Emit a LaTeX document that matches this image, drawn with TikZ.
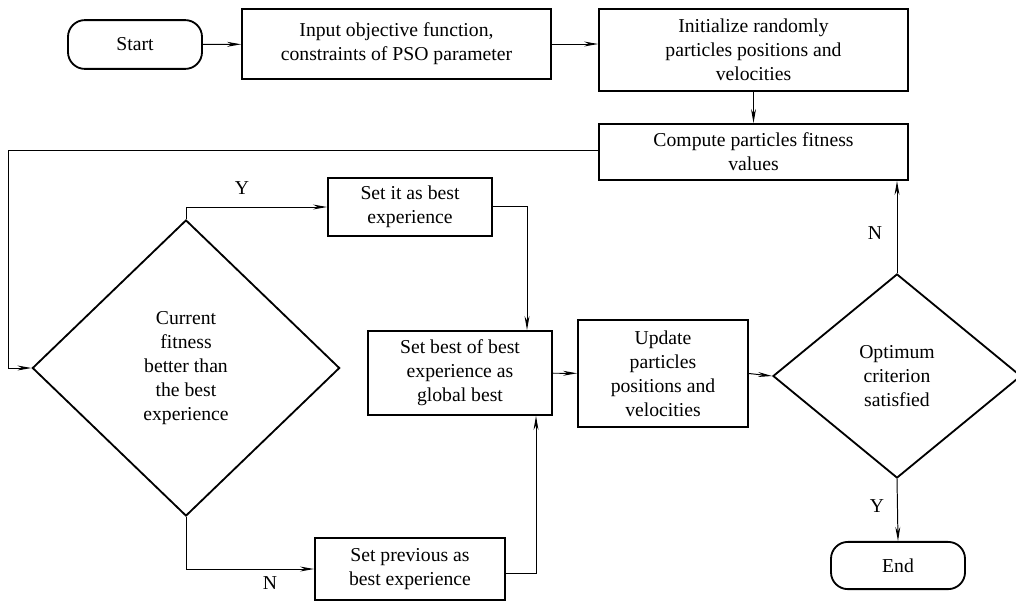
\documentclass[tikz,border=0pt]{standalone}
\usepackage{fontspec}
\setmainfont{Liberation Serif}
\usetikzlibrary{shapes.geometric,arrows.meta}

\tikzset{
  flowbox/.style={draw,line width=1.3pt,align=center,inner sep=0pt},
  terminal/.style={flowbox,rounded corners=12pt},
  decide/.style={draw,diamond,aspect=1,line width=1.3pt,align=center,inner sep=0pt},
  link/.style={line width=0.7pt,-{Stealth[length=10pt,width=3.5pt]}},
  yn/.style={inner sep=0pt}
}

\begin{document}
\begin{tikzpicture}[x=0.025cm,y=-0.025cm,font=\rmfamily\fontsize{14pt}{17pt}\selectfont]
		\useasboundingbox (0,0) rectangle (1016,601);
		% boxes
		\node[terminal,minimum width=3.35cm,minimum height=1.22cm] (start) at (135,44.5) {Start};
		\node[flowbox,minimum width=7.72cm,minimum height=1.75cm] (input) at (396.5,44) {Input objective function,\\constraints of PSO parameter};
		\node[flowbox,minimum width=7.72cm,minimum height=2.05cm] (init) at (753.5,50) {Initialize randomly\\particles positions and\\velocities};
		\node[flowbox,minimum width=7.72cm,minimum height=1.4cm] (comp) at (753.5,152) {Compute particles fitness\\values};
		\node[decide,minimum width=7.68cm,minimum height=7.4cm] (curr) at (186,368) {Current\\fitness\\better than\\the best\\experience};
		\node[flowbox,minimum width=4.1cm,minimum height=1.45cm] (setit) at (410,207) {Set it as best\\experience};
		\node[flowbox,minimum width=4.6cm,minimum height=2.1cm] (gbest) at (460,373) {Set best of best\\experience as\\global best};
		\node[flowbox,minimum width=4.75cm,minimum height=1.55cm] (prev) at (410,569) {Set previous as\\best experience};
		\node[flowbox,minimum width=4.25cm,minimum height=2.68cm] (upd) at (663,373.5) {Update\\particles\\positions and\\velocities};
		\node[decide,minimum width=6.2cm,minimum height=5.1cm] (optim) at (897,376) {Optimum\\criterion\\satisfied};
		\node[terminal,minimum width=3.35cm,minimum height=1.18cm] (stop) at (898,565.5) {End};
		% labels
		\node[yn] (y1) at (242,188) {Y};
		\node[yn] (n1) at (270,583) {N};
		\node[yn] (n2) at (875,233) {N};
		\node[yn] (y2) at (877,506) {Y};
		% helper points
		\coordinate (back) at (8,150);
		\coordinate (down1) at (527,206);
		\coordinate (up1) at (536,573);
		% connectors
		\draw[link] (start) -- (input);
		\draw[link] (input.east) -- (input.east -| init.west);
		\draw[link] (init) -- (comp);
		\draw[link] (comp.west |- back) -- (back) |- (curr.west);
		\draw[link] (curr.north) |- (setit.west);
		\draw[link] (curr.south) |- (prev.west);
		\draw[link] (setit.east |- down1) -- (down1) -- (down1 |- gbest.north);
		\draw[link] (prev.east |- up1) -- (up1) -- (up1 |- gbest.south);
		\draw[link] (gbest) -- (upd);
		\draw[link] (upd.east) -- (optim.west);
		\draw[link] (optim.north) -- (optim.north |- comp.south);
		\draw[link] (optim.south) -- (stop.north);
\end{tikzpicture}
\end{document}
